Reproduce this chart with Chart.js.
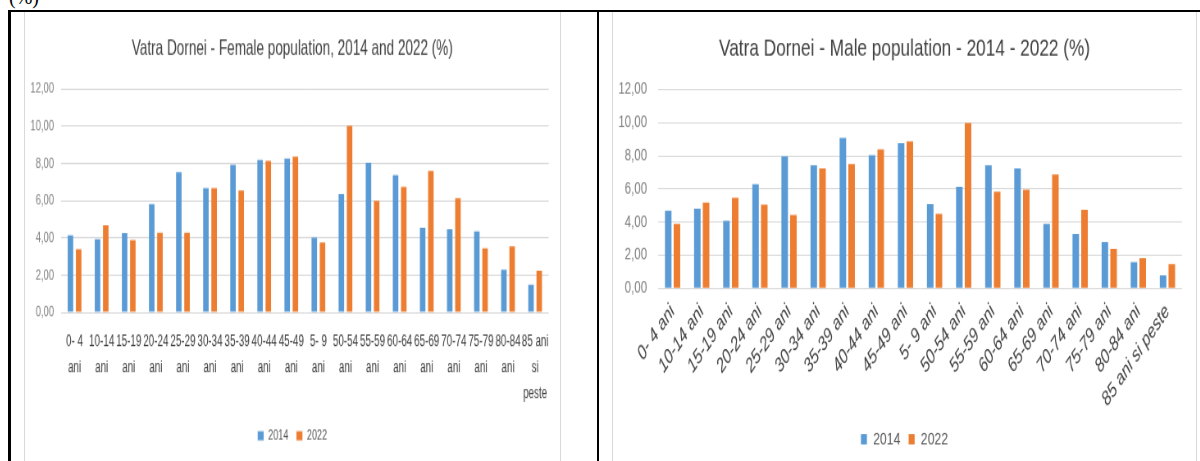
<!DOCTYPE html>
<html>
<head>
<meta charset="utf-8">
<script src="https://cdn.jsdelivr.net/npm/chart.js@4/dist/chart.umd.min.js"></script>
<style>
  html, body { margin: 0; padding: 0; background: #fff; overflow: hidden; }
  body { width: 1200px; height: 461px; position: relative; }
  .rule { position: absolute; background: #000; }
  .box { position: absolute; top: 12px; height: 460px; border: 1px solid #d9d9d9; border-top: none; }
  .box canvas { position: absolute; left: 0; top: 0; transform-origin: 0 0; }
  #pct { position: absolute; left: 9px; top: -13px; font: 20px/20px 'Liberation Serif', serif; color: #000; }
</style>
</head>
<body>
<div id="pct">(%)</div>
<div class="rule" style="left:8px; top:10px; width:1192px; height:2.4px"></div>
<div class="rule" style="left:8.3px; top:10px; width:2.4px; height:451px"></div>
<div class="rule" style="left:597px; top:10px; width:2.4px; height:451px"></div>

<div class="box" style="left:24px; width:535px">
  <canvas id="femaleChart" width="652" height="345" style="transform: scale(0.82, 1.3)"></canvas>
</div>
<div class="box" style="left:612px; width:583px">
  <canvas id="maleChart" width="711" height="390" style="transform: scale(0.82, 1.15)"></canvas>
</div>

<script>
/* ── Vatra Dornei population by age group, 2014 vs 2022 ── */

Chart.defaults.font.family = "'Liberation Sans', Arial, sans-serif";
Chart.defaults.animation = false;

const AGE_GROUPS = ['0- 4 ani', '10-14 ani', '15-19 ani', '20-24 ani', '25-29 ani', '30-34 ani',
  '35-39 ani', '40-44 ani', '45-49 ani', '5- 9 ani', '50-54 ani', '55-59 ani', '60-64 ani',
  '65-69 ani', '70-74 ani', '75-79 ani', '80-84 ani', '85 ani si peste'];

// wrapped tick labels used by the female chart
const AGE_GROUPS_WRAPPED = [['0- 4', 'ani'], ['10-14', 'ani'], ['15-19', 'ani'], ['20-24', 'ani'],
  ['25-29', 'ani'], ['30-34', 'ani'], ['35-39', 'ani'], ['40-44', 'ani'], ['45-49', 'ani'],
  ['5- 9', 'ani'], ['50-54', 'ani'], ['55-59', 'ani'], ['60-64', 'ani'], ['65-69', 'ani'],
  ['70-74', 'ani'], ['75-79', 'ani'], ['80-84', 'ani'], ['85 ani', 'si', 'peste']];

const YEARS = ['2014', '2022'];

const FEMALE_2014 = [4.14, 3.93, 4.25, 5.82, 7.53, 6.67, 7.93, 8.19, 8.25, 4.02, 6.35, 8.03, 7.37, 4.53, 4.46, 4.35, 2.28, 1.48];
const FEMALE_2022 = [3.39, 4.68, 3.87, 4.28, 4.28, 6.67, 6.55, 8.14, 8.36, 3.75, 10.02, 5.98, 6.73, 7.59, 6.12, 3.43, 3.54, 2.23];
const MALE_2014 = [4.70, 4.82, 4.09, 6.30, 7.98, 7.44, 9.08, 8.04, 8.78, 5.10, 6.14, 7.44, 7.24, 3.90, 3.28, 2.80, 1.58, 0.78];
const MALE_2022 = [3.90, 5.18, 5.48, 5.06, 4.44, 7.24, 7.50, 8.40, 8.88, 4.50, 10.00, 5.84, 5.96, 6.88, 4.74, 2.38, 1.82, 1.46];

const Y_MAX = 12;
const Y_STEP = 2;

const BLUE = '#5b9bd5';
const ORANGE = '#ed7d31';

const fmtComma = v => v.toFixed(2).replace('.', ',');

function buildChart(canvasId, labels, s2014, s2022, o) {
  new Chart(document.getElementById(canvasId), {
    type: 'bar',
    data: {
      labels,
      datasets: [
        { label: YEARS[0], data: s2014, backgroundColor: BLUE, borderWidth: 0,
          categoryPercentage: o.catPct, barPercentage: o.barPct },
        { label: YEARS[1], data: s2022, backgroundColor: ORANGE, borderWidth: 0,
          categoryPercentage: o.catPct, barPercentage: o.barPct },
      ],
    },
    options: {
      responsive: false,
      // equal side padding keeps title and legend centred on the box
      layout: { padding: { left: o.padSide, right: o.padSide, top: 0, bottom: o.padBottom } },
      plugins: {
        title: {
          display: true, text: o.title, color: '#404040',
          font: { size: o.titleSize, weight: 'normal', lineHeight: 1.2 },
          padding: { top: o.titleTop, bottom: o.titleBottom },
        },
        legend: {
          position: 'bottom',
          labels: {
            boxWidth: 7.3, boxHeight: o.boxH, padding: 10, color: '#595959',
            font: { size: o.legendSize },
          },
        },
        tooltip: { enabled: false },
      },
      scales: {
        x: {
          grid: { display: false, drawTicks: false },
          border: { display: false },
          afterFit: s => { s.height = o.xHeight; },
          ticks: {
            autoSkip: false, color: '#404040', padding: o.xPad,
            minRotation: o.rot, maxRotation: o.rot,
            font: { size: o.xSize, style: o.xStyle, lineHeight: o.xLine },
          },
        },
        y: {
          min: 0, max: Y_MAX,
          grid: { color: '#d9d9d9', drawTicks: false },
          border: { display: false },
          afterFit: s => {
            s.width = o.yWidth;
            s._computeLabelArea = () => null; // labels reach into the side padding, don't clip them
          },
          ticks: { stepSize: Y_STEP, color: '#7f7f7f', padding: o.yPad,
                   font: { size: o.ySize }, callback: fmtComma },
        },
      },
    },
  });
}

buildChart('femaleChart', AGE_GROUPS_WRAPPED, FEMALE_2014, FEMALE_2022, {
  title: 'Vatra Dornei - Female population, 2014 and 2022 (%)',
  titleSize: 16.5, titleTop: 19, titleBottom: 20.3,
  padSide: 13.4, padBottom: 3.6,
  yWidth: 30.5, yPad: 8.5, ySize: 11.5,
  xHeight: 79.4, xPad: 12.5, xSize: 12, xLine: '20px', xStyle: 'normal', rot: 0,
  legendSize: 11, boxH: 7,
  catPct: 0.607, barPct: 0.67,
});

buildChart('maleChart', AGE_GROUPS, MALE_2014, MALE_2022, {
  title: 'Vatra Dornei - Male population - 2014 - 2022 (%)',
  titleSize: 21, titleTop: 20, titleBottom: 22.4,
  padSide: 17.1, padBottom: 1,
  yWidth: 37.8, yPad: 13.4, ySize: 14,
  xHeight: 113.7, xPad: 10, xSize: 17.5, xLine: 1.2, xStyle: 'italic', rot: 47,
  legendSize: 15, boxH: 9,
  catPct: 0.6, barPct: 0.75,
});
</script>
</body>
</html>
